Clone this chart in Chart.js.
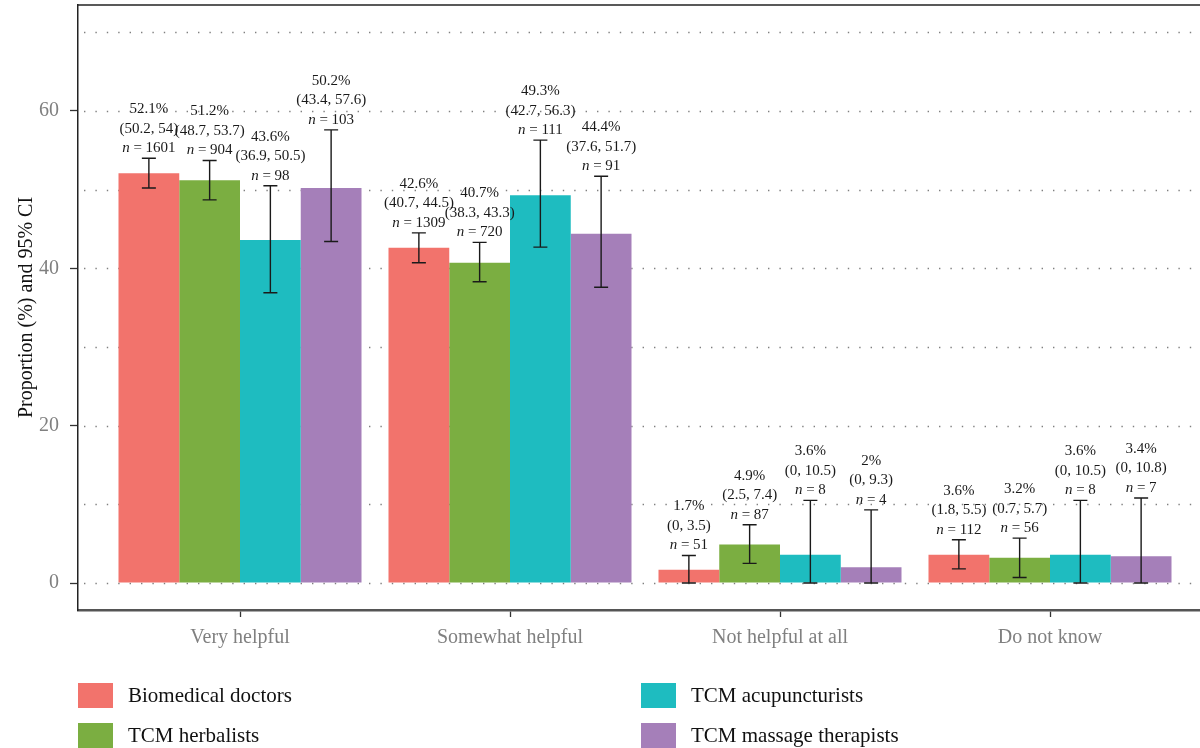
<!DOCTYPE html>
<html>
<head>
<meta charset="utf-8">
<script src="https://cdn.jsdelivr.net/npm/chart.js@4.4.1/dist/chart.umd.min.js"></script>
<style>
    html, body { margin: 0; padding: 0; background: #fff; overflow: hidden; }
    #wrap { position: relative; width: 1212px; height: 748px; }
</style>
</head>
<body>
<div id="wrap"><canvas id="chart"></canvas></div>
<script>
// ----------------------------------------------------
// Data
// ----------------------------------------------------
const categories = ['Very helpful', 'Somewhat helpful', 'Not helpful at all', 'Do not know'];
const groups = ['Biomedical doctors', 'TCM herbalists', 'TCM acupuncturists', 'TCM massage therapists'];
const colors = ['#F2736C', '#7BAE41', '#1EBCC0', '#A57FB9'];

// proportion (%) per group, in category order
const proportions = [
    [52.1, 42.6, 1.7, 3.6],
    [51.2, 40.7, 4.9, 3.2],
    [43.6, 49.3, 3.6, 3.6],
    [50.2, 44.4, 2, 3.4]
];
const ciLower = [
    [50.2, 40.7, 0, 1.8],
    [48.7, 38.3, 2.5, 0.7],
    [36.9, 42.7, 0, 0],
    [43.4, 37.6, 0, 0]
];
const ciUpper = [
    [54, 44.5, 3.5, 5.5],
    [53.7, 43.3, 7.4, 5.7],
    [50.5, 56.3, 10.5, 10.5],
    [57.6, 51.7, 9.3, 10.8]
];
const counts = [
    [1601, 1309, 51, 112],
    [904, 720, 87, 56],
    [98, 111, 8, 8],
    [103, 91, 4, 7]
];

const yGridValues = [0, 10, 20, 30, 40, 50, 60, 70];
const yTickLabels = [0, 20, 40, 60];

const SERIF = '"Liberation Serif", "DejaVu Serif", serif';

// ----------------------------------------------------
// Custom drawing: dotted grid, error bars, labels, legend
// ----------------------------------------------------
const decorPlugin = {
    id: 'decor',
    beforeDatasetsDraw(chart) {
        const { ctx, chartArea, scales } = chart;
        ctx.save();
        ctx.strokeStyle = '#808080';
        ctx.lineWidth = 1.4;
        ctx.setLineDash([1.4, 10]);
        yGridValues.forEach(v => {
            const y = Math.round(scales.y.getPixelForValue(v)) + 0.5;
            ctx.beginPath();
            ctx.moveTo(chartArea.left + 6, y);
            ctx.lineTo(chartArea.right, y);
            ctx.stroke();
        });
        ctx.setLineDash([]);
        // panel top border
        ctx.strokeStyle = '#222';
        ctx.lineWidth = 1.5;
        ctx.beginPath();
        ctx.moveTo(chartArea.left, chartArea.top);
        ctx.lineTo(chartArea.right, chartArea.top);
        ctx.stroke();
        ctx.restore();
    },
    afterDatasetsDraw(chart) {
        const { ctx, scales } = chart;
        ctx.save();
        chart.data.datasets.forEach((ds, g) => {
            const meta = chart.getDatasetMeta(g);
            meta.data.forEach((bar, i) => {
                const x = bar.x;
                const yLo = scales.y.getPixelForValue(ciLower[g][i]);
                const yHi = scales.y.getPixelForValue(ciUpper[g][i]);
                // error bar
                ctx.strokeStyle = '#1a1a1a';
                ctx.lineWidth = 1.4;
                ctx.beginPath();
                ctx.moveTo(x, yLo); ctx.lineTo(x, yHi);
                ctx.moveTo(x - 7, yLo); ctx.lineTo(x + 7, yLo);
                ctx.moveTo(x - 7, yHi); ctx.lineTo(x + 7, yHi);
                ctx.stroke();

                // three-line label
                const lh = 19.5;
                const base = yHi - 10;
                ctx.fillStyle = '#1a1a1a';
                ctx.textBaseline = 'middle';
                ctx.textAlign = 'center';
                ctx.font = '15px ' + SERIF;
                ctx.fillText(proportions[g][i] + '%', x, base - 2 * lh);
                ctx.fillText('(' + ciLower[g][i] + ', ' + ciUpper[g][i] + ')', x, base - lh);

                const rest = ' = ' + counts[g][i];
                ctx.font = 'italic 15px ' + SERIF;
                const wN = ctx.measureText('n').width;
                ctx.font = '15px ' + SERIF;
                const wRest = ctx.measureText(rest).width;
                const start = x - (wN + wRest) / 2;
                ctx.textAlign = 'left';
                ctx.font = 'italic 15px ' + SERIF;
                ctx.fillText('n', start, base);
                ctx.font = '15px ' + SERIF;
                ctx.fillText(rest, start + wN, base);
            });
        });
        ctx.restore();
    },
    afterDraw(chart) {
        const { ctx, chartArea } = chart;
        ctx.save();
        // y axis title
        ctx.translate(27, (chartArea.top + chartArea.bottom) / 2);
        ctx.rotate(-Math.PI / 2);
        ctx.fillStyle = '#111';
        ctx.font = '20px ' + SERIF;
        ctx.textAlign = 'center';
        ctx.textBaseline = 'middle';
        ctx.fillText('Proportion (%) and 95% CI', 0, 0);
        ctx.restore();

        // legend, two columns
        ctx.save();
        const colX = [78, 641];
        const rowY = [683, 723];
        ctx.font = '21px ' + SERIF;
        ctx.textBaseline = 'middle';
        ctx.textAlign = 'left';
        groups.forEach((name, g) => {
            const cx = colX[Math.floor(g / 2)];
            const cy = rowY[g % 2];
            ctx.fillStyle = colors[g];
            ctx.fillRect(cx, cy, 35, 25);
            ctx.fillStyle = '#111';
            ctx.fillText(name, cx + 50, cy + 13);
        });
        ctx.restore();
    }
};

// ----------------------------------------------------
// Chart
// ----------------------------------------------------
new Chart(document.getElementById('chart'), {
    type: 'bar',
    data: {
        datasets: groups.map((name, g) => ({
            label: name,
            data: categories.map((c, i) => ({ x: i + 1, y: proportions[g][i] })),
            backgroundColor: colors[g],
            borderWidth: 0,
            barPercentage: 1,
            categoryPercentage: 0.9
        }))
    },
    options: {
        responsive: true,
        maintainAspectRatio: false,
        animation: false,
        layout: { padding: { top: 5, left: 0, right: 0, bottom: 0 } },
        plugins: {
            legend: { display: false },
            tooltip: { enabled: false }
        },
        scales: {
            x: {
                type: 'linear',
                min: 0.4,
                max: 4.6,
                bounds: 'data',
                offset: false,
                afterBuildTicks: s => { s.ticks = categories.map((c, i) => ({ value: i + 1 })); },
                afterFit: s => { s.height = 138; s.paddingLeft = 0; s.paddingRight = 0; },
                ticks: {
                    callback: v => categories[v - 1],
                    color: '#808080',
                    font: { family: SERIF, size: 20 },
                    padding: 9,
                    maxRotation: 0,
                    autoSkip: false
                },
                grid: { offset: false, drawOnChartArea: false, tickLength: 7, tickColor: '#333', tickWidth: 1.3 },
                border: { color: '#555', width: 2.5 }
            },
            y: {
                min: -3.43,
                max: 73.47,
                bounds: 'data',
                afterBuildTicks: s => { s.ticks = yGridValues.map(v => ({ value: v })); },
                afterFit: s => { s.width = 78; s.paddingTop = 0; s.paddingBottom = 0; },
                ticks: {
                    callback: v => yTickLabels.includes(v) ? String(v) : '',
                    color: '#808080',
                    font: { family: SERIF, size: 20 },
                    padding: 11
                },
                grid: {
                    drawOnChartArea: false,
                    tickLength: 8,
                    tickWidth: 1.3,
                    tickColor: c => (c.tick && yTickLabels.includes(c.tick.value)) ? '#333' : 'rgba(0,0,0,0)'
                },
                border: { color: '#222', width: 1.5 }
            }
        }
    },
    plugins: [decorPlugin]
});
</script>
</body>
</html>
